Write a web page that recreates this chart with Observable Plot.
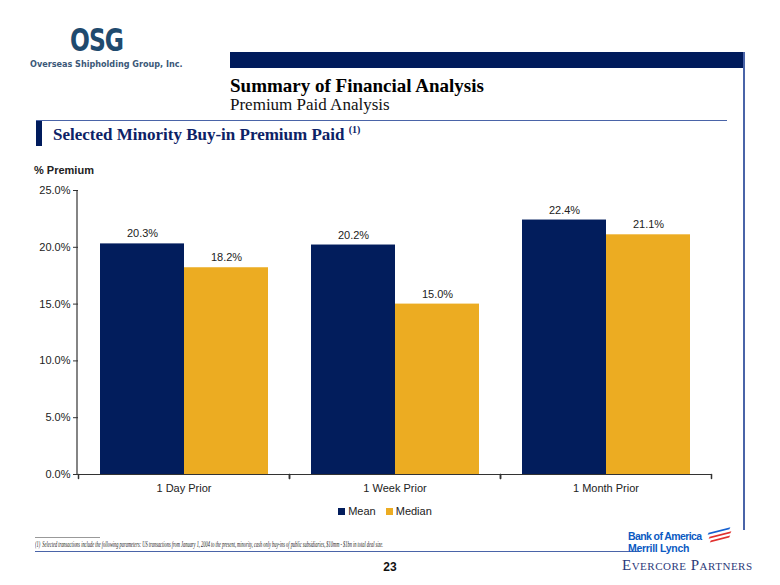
<!DOCTYPE html>
<html>
<head>
<meta charset="utf-8">
<script src="https://cdn.jsdelivr.net/npm/d3@7"></script>
<script src="https://cdn.jsdelivr.net/npm/@observablehq/plot@0.6"></script>
<style>
  html, body { margin: 0; padding: 0; background: #fff; }
  #page { position: relative; width: 780px; height: 585px; overflow: hidden; background: #fff; font-family: Arial, "Liberation Sans", sans-serif; }
  .abs { position: absolute; white-space: nowrap; }
  .serif { font-family: "Liberation Serif", "Times New Roman", serif; }
</style>
</head>
<body>
<div id="page">
  <!-- OSG logo -->
  <div class="abs" style="left:70px; top:26px; line-height:22px; font-family:'DejaVu Sans Condensed','DejaVu Sans',sans-serif; font-weight:bold; font-size:26px; color:#1F4A6E; letter-spacing:-1px; transform:scaleY(1.25); transform-origin:top left;">OSG</div>
  <div class="abs" style="left:30px; top:59px; line-height:10px; font-family:'DejaVu Sans Condensed','DejaVu Sans',sans-serif; font-weight:bold; font-size:9px; color:#3B5878;">Overseas Shipholding Group, Inc.</div>

  <!-- header bar + lines -->
  <div class="abs" style="left:230px; top:52px; width:514px; height:16px; background:#001B5C;"></div>
  <div class="abs" style="left:743px; top:52px; width:1.5px; height:478px; background:#4A64A8;"></div>
  <div class="abs serif" style="left:230px; top:75px; font-size:19px; font-weight:bold; color:#000;">Summary of Financial Analysis</div>
  <div class="abs serif" style="left:230px; top:95px; font-size:17px; color:#111;">Premium Paid Analysis</div>
  <div class="abs" style="left:36px; top:120px; width:691px; height:1.2px; background:#4A64A8;"></div>
  <div class="abs" style="left:36px; top:121px; width:6px; height:25px; background:#001B5C;"></div>
  <div class="abs serif" style="left:53px; top:124px; font-size:17px; font-weight:bold; color:#0D2266;">Selected Minority Buy-in Premium Paid <sup style="font-size:10px;">(1)</sup></div>

  <div class="abs" style="left:34px; top:164px; font-size:11px; font-weight:bold; color:#222;">% Premium</div>

  <div id="chart" class="abs" style="left:0; top:160px;"></div>

  <!-- legend -->
  <div id="legend" class="abs" style="left:0; width:780px; top:505px; text-align:center; font-size:11px; color:#222;"></div>

  <!-- footer -->
  <div class="abs" style="left:35px; top:537px; width:65px; height:1px; background:#999;"></div>
  <div class="abs serif" style="left:35px; top:539px; line-height:10px; font-size:8.5px; font-style:italic; color:#222; transform:scaleX(0.52); transform-origin:top left;">(1)&nbsp; Selected transactions include the following parameters: US transactions from January 1, 2004 to the present, minority, cash only buy-ins of public subsidiaries, $10mm - $1bn in total deal size.</div>
  <div class="abs" style="left:35px; top:551px; width:605px; height:1.2px; background:#4A64A8;"></div>
  <div class="abs" style="left:380px; top:560px; width:20px; text-align:center; font-size:12px; font-weight:bold; color:#111;">23</div>

  <!-- BofA / Evercore -->
  <div class="abs" style="left:628px; top:530px; line-height:12px; font-size:10.5px; font-weight:bold; color:#0B5AC2; letter-spacing:-0.6px;">Bank of America</div>
  <div class="abs" style="left:628px; top:542px; line-height:12px; font-size:10.5px; font-weight:bold; color:#0B5AC2; letter-spacing:-0.3px;">Merrill Lynch</div>
  <div class="abs" style="left:710px; top:530px; width:18px; height:2px; background:#1560D0; transform:skewX(-40deg) rotate(-18deg);"></div>
  <div class="abs" style="left:711px; top:534px; width:18px; height:2px; background:#E0302E; transform:skewX(-40deg) rotate(-18deg);"></div>
  <div class="abs" style="left:712px; top:538px; width:16px; height:2px; background:#E0302E; transform:skewX(-40deg) rotate(-18deg);"></div>
  <div class="abs serif" style="left:622px; top:557px; font-size:15px; color:#2C3A7A; font-variant:small-caps; letter-spacing:0.5px;">Evercore Partners</div>
</div>

<script>
const categories = ["1 Day Prior", "1 Week Prior", "1 Month Prior"];
const series = ["Mean", "Median"];
const meanValues = [20.3, 20.2, 22.4];
const medianValues = [18.2, 15.0, 21.1];
const yTicks = [0, 5, 10, 15, 20, 25];
const colors = ["#021D5C", "#ECAC22"];

const data = categories.flatMap((c, i) => [
  {cat: c, series: "Mean", value: meanValues[i]},
  {cat: c, series: "Median", value: medianValues[i]}
]);

const lineShape = {draw(context, l) { context.moveTo(0, 0); context.lineTo(0, -l); }};

const chart = Plot.plot({
  width: 780,
  height: 340,
  marginTop: 30,
  marginBottom: 26,
  marginLeft: 77,
  marginRight: 68,
  style: {fontFamily: "Arial, 'Liberation Sans', sans-serif", fontSize: "11px", color: "#222", background: "transparent", overflow: "visible"},
  fx: {domain: categories, padding: 0, label: null, axis: null},
  x: {domain: series, paddingInner: 0, paddingOuter: 0.25, axis: null},
  y: {domain: [0, 25], axis: null},
  color: {domain: series, range: colors},
  marks: [
    Plot.barY(data, {fx: "cat", x: "series", y: "value", fill: "series"}),
    Plot.text(data, {fx: "cat", x: "series", y: "value", text: d => d.value.toFixed(1) + "%", dy: -10, fill: "#222", fontSize: 11}),
    Plot.ruleY([0], {stroke: "#333", strokeWidth: 1.2}),
    Plot.vector([0], {frameAnchor: "bottom-left", length: 4, rotate: 180, anchor: "start", shape: lineShape, stroke: "#333"}),
    Plot.vector([0], {frameAnchor: "bottom-right", length: 4, rotate: 180, anchor: "start", shape: lineShape, stroke: "#333"}),
    Plot.axisY({ticks: yTicks, tickFormat: d => d.toFixed(1) + "%", tickSize: 5, tickPadding: 3, label: null, stroke: "#333", fill: "#222"}),
    Plot.axisFx({anchor: "bottom", tickSize: 0, tickPadding: 10, label: null, fill: "#222"})
  ]
});
document.getElementById("chart").appendChild(chart);

// y axis line, positioned with the plot's own y scale
const svg = d3.select(chart);
const yScale = chart.scale("y");
svg.append("line")
  .attr("x1", 77).attr("x2", 77)
  .attr("y1", yScale.apply(25)).attr("y2", yScale.apply(0))
  .attr("stroke", "#333").attr("stroke-width", 1.2);

// legend
const legend = document.getElementById("legend");
legend.innerHTML = series.map((s, i) =>
  `<span style="display:inline-block;width:7px;height:7px;background:${colors[i]};margin-right:3px;vertical-align:0px;"></span><span style="margin-right:10px;">${s}</span>`
).join("");
</script>
</body>
</html>
